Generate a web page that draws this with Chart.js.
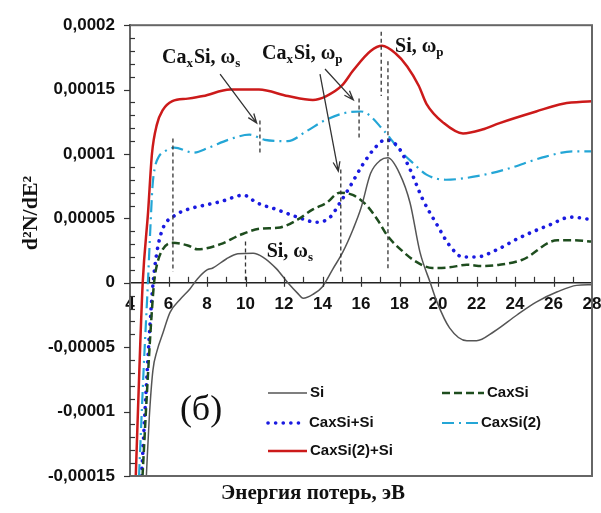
<!DOCTYPE html>
<html>
<head>
<meta charset="utf-8">
<script src="https://cdn.jsdelivr.net/npm/chart.js@4.4.0/dist/chart.umd.min.js"></script>
<style>
  html, body { margin: 0; padding: 0; background: #fff; }
</style>
</head>
<body>
<canvas id="chart-area" width="601" height="513"></canvas>
<script>
// values are read in units of 1e-5
const SCALE = 1e-5;

// Si
const siE = [4.85, 5.0, 5.19, 5.4, 5.71, 6.08, 6.6, 7.1, 7.5, 8.0, 8.3, 9.0, 9.6, 10.4, 10.9, 11.6, 12.2, 12.7, 13.0, 13.5, 14.0, 14.55, 15.06, 15.6, 16.0, 16.5, 17.0, 17.4, 18.0, 18.55, 19.06, 19.6, 19.95, 20.6, 21.5, 22.0, 22.9, 24.1, 25.1, 26.2, 27.2, 28.0];
const siV = [-15, -10.5, -6.8, -5.3, -3.9, -2.3, -1.3, -0.5, 0.3, 1.0, 1.15, 1.85, 2.25, 2.3, 2.0, 1.1, 0, -0.8, -1.2, -0.9, -0.3, 1.1, 2.4, 4.2, 5.8, 8.5, 9.5, 9.7, 8.5, 6.2, 2.4, 0, -1.5, -3.5, -4.5, -4.5, -3.8, -2.5, -1.5, -0.7, -0.2, -0.15];

// CaxSi
const caE = [4.65, 4.9, 5.1, 5.25, 5.4, 5.7, 6.2, 7.0, 7.5, 8.7, 9.7, 10.75, 11.8, 12.7, 13.5, 14.2, 14.9, 15.6, 16.3, 16.9, 17.35, 18.2, 18.9, 19.7, 20.6, 21.5, 22.3, 23.2, 24.4, 26.2, 27.0, 28.0];
const caV = [-15, -8, -3, 0, 1.4, 2.6, 3.1, 2.9, 2.6, 3.0, 3.7, 4.2, 4.3, 4.9, 5.7, 6.2, 7.0, 6.8, 6.0, 4.8, 3.7, 2.4, 1.6, 1.15, 1.2, 1.4, 1.3, 1.4, 1.8, 3.3, 3.3, 3.2];

// CaxSi+Si
const casiE = [4.6, 4.85, 5.05, 5.2, 5.4, 5.7, 6.3, 7.0, 7.8, 8.7, 9.9, 10.6, 11.6, 12.7, 13.7, 14.4, 14.9, 15.4, 16.1, 16.8, 17.25, 17.9, 18.55, 19.2, 19.95, 20.6, 21.3, 22.0, 23.1, 24.1, 25.8, 26.9, 28.0];
const casiV = [-15, -8, -3, 0, 2.4, 4.2, 5.2, 5.7, 6.0, 6.3, 6.8, 6.2, 5.7, 5.1, 4.7, 5.1, 6.2, 7.4, 9.2, 10.6, 11.1, 10.6, 8.8, 6.5, 4.5, 2.9, 2.0, 2.0, 2.6, 3.4, 4.5, 5.1, 4.9];

// CaxSi(2)
const ca2E = [4.47, 4.7, 4.93, 5.05, 5.17, 5.3, 5.5, 5.8, 6.3, 7.3, 8.1, 9.1, 10.2, 11.0, 12.2, 13.2, 14.1, 15.2, 16.0, 17.2, 18.0, 18.7, 19.4, 20.4, 22.1, 23.5, 25.6, 27.0, 28.0];
const ca2V = [-15, -7, 0, 4, 7.5, 9, 9.8, 10.2, 10.5, 10.1, 10.5, 11.1, 11.5, 11.1, 11.0, 11.8, 12.6, 13.2, 13.3, 11.8, 10.3, 9.3, 8.4, 8.0, 8.3, 8.8, 9.8, 10.2, 10.2];

// CaxSi(2)+Si
const ca2siE = [4.3, 4.48, 4.66, 4.94, 5.14, 5.4, 5.7, 6.2, 7.0, 7.8, 9.2, 10.7, 12.2, 13.5, 14.2, 15.0, 15.6, 16.5, 17.1, 17.8, 18.4, 19.0, 19.4, 20.3, 21.3, 22.3, 23.2, 25.1, 26.5, 28.0];
const ca2siV = [-15, -7, 0, 5.5, 10, 12.3, 13.4, 14.1, 14.3, 14.5, 15, 15, 14.5, 14.2, 14.5, 15.3, 16.5, 18.0, 18.4, 17.8, 16.8, 15.3, 13.9, 12.4, 11.6, 11.9, 12.4, 13.3, 13.9, 14.1];

const seriesNames = ['Si', 'CaxSi', 'CaxSi+Si', 'CaxSi(2)', 'CaxSi(2)+Si'];

// axis ticks
const yTickUnits = [-15, -10, -5, 0, 5, 10, 15, 20];
const yTickLabels = ['-0,00015', '-0,0001', '-0,00005', '0', '0,00005', '0,0001', '0,00015', '0,0002'];
const xMin = 4, xMax = 28;

// vertical dashed markers (energy, top, bottom in 1e-5)
const markE = [6.23, 10.0, 10.75, 14.95, 15.9, 17.05, 17.4];
const markTop = [11.2, 3.2, 12.6, 8.8, 14.3, 19.5, 17.2];
const markBot = [0.85, 0.2, 9.9, 0.85, 11.1, 14.5, 1.1];

// arrows: from (E, v) to (E, v)
const arrowFromE = [8.68, 13.87, 14.13];
const arrowFromV = [16.2, 16.2, 16.6];
const arrowToE = [10.58, 14.82, 15.6];
const arrowToV = [12.4, 8.67, 14.2];

// peak labels [text, subscript?]
const peakParts = [
  [['Ca', 0], ['x', 1], ['Si, \u03c9', 0], ['s', 1]],
  [['Ca', 0], ['x', 1], ['Si, \u03c9', 0], ['p', 1]],
  [['Si, \u03c9', 0], ['p', 1]],
  [['Si, \u03c9', 0], ['s', 1]]
];
const peakE = [5.66, 10.86, 17.77, 11.1];
const peakV = [17.1, 17.4, 17.9, 2.0];

function pts(E, V) {
  return E.map(function(e, i) { return {x: e, y: V[i] * SCALE}; });
}

const serif = '"Liberation Serif", "Times New Roman", serif';
const sans = '"Liberation Sans", Arial, sans-serif';

function drawParts(ctx, parts, x, y) {
  parts.forEach(function(p) {
    ctx.font = p[1] ? 'bold 13px ' + serif : 'bold 20px ' + serif;
    ctx.fillText(p[0], x, p[1] ? y + 4 : y);
    x += ctx.measureText(p[0]).width + (p[1] ? 1 : 0);
  });
}

function drawArrow(ctx, x1, y1, x2, y2) {
  ctx.beginPath();
  ctx.moveTo(x1, y1);
  ctx.lineTo(x2, y2);
  const a = Math.atan2(y2 - y1, x2 - x1);
  ctx.moveTo(x2 - 10 * Math.cos(a - 0.35), y2 - 10 * Math.sin(a - 0.35));
  ctx.lineTo(x2, y2);
  ctx.lineTo(x2 - 10 * Math.cos(a + 0.35), y2 - 10 * Math.sin(a + 0.35));
  ctx.stroke();
}

// legend layout inside the plot
const legendPos = [
  {x: 268, y: 393, w: 39},
  {x: 442, y: 393, w: 42},
  {x: 268, y: 423, w: 38},
  {x: 442, y: 423, w: 36},
  {x: 268, y: 451, w: 39}
];

const overlay = {
  id: 'overlay',
  afterDraw(chart) {
    const ctx = chart.ctx, a = chart.chartArea;
    const xs = chart.scales.x, ys = chart.scales.y;
    ctx.save();

    // frame
    ctx.strokeStyle = '#666';
    ctx.lineWidth = 2;
    ctx.strokeRect(a.left, a.top, a.right - a.left, a.bottom - a.top);

    // tick marks, minor included
    ctx.strokeStyle = '#333';
    ctx.lineWidth = 1.2;
    for (let u = yTickUnits[0]; u <= yTickUnits[yTickUnits.length - 1]; u++) {
      const py = Math.round(ys.getPixelForValue(u * SCALE)) + 0.5;
      ctx.beginPath();
      if (u % 5 === 0) { ctx.moveTo(a.left - 6, py); ctx.lineTo(a.left, py); }
      else { ctx.moveTo(a.left, py); ctx.lineTo(a.left + 5, py); }
      ctx.stroke();
    }
    const y0 = ys.getPixelForValue(0);
    for (let e = xMin + 1; e < xMax; e++) {
      const px = Math.round(xs.getPixelForValue(e)) + 0.5;
      ctx.beginPath();
      ctx.moveTo(px, y0 - 6);
      ctx.lineTo(px, e % 2 === 0 ? y0 + 4 : y0);
      ctx.stroke();
    }

    // dashed markers
    ctx.setLineDash([4, 3]);
    ctx.strokeStyle = '#333';
    ctx.lineWidth = 1.3;
    markE.forEach(function(e, i) {
      const px = xs.getPixelForValue(e);
      ctx.beginPath();
      ctx.moveTo(px, ys.getPixelForValue(markTop[i] * SCALE));
      ctx.lineTo(px, ys.getPixelForValue(markBot[i] * SCALE));
      ctx.stroke();
    });
    ctx.setLineDash([]);

    // arrows
    ctx.strokeStyle = '#333';
    ctx.lineWidth = 1.3;
    arrowFromE.forEach(function(e, i) {
      drawArrow(ctx, xs.getPixelForValue(e), ys.getPixelForValue(arrowFromV[i] * SCALE),
        xs.getPixelForValue(arrowToE[i]), ys.getPixelForValue(arrowToV[i] * SCALE));
    });

    // peak labels
    ctx.fillStyle = '#111';
    ctx.textBaseline = 'alphabetic';
    ctx.textAlign = 'left';
    peakParts.forEach(function(parts, i) {
      drawParts(ctx, parts, xs.getPixelForValue(peakE[i]), ys.getPixelForValue(peakV[i] * SCALE));
    });

    // (б)
    ctx.font = '36px ' + serif;
    ctx.textAlign = 'center';
    ctx.textBaseline = 'middle';
    ctx.fillText('(б)', xs.getPixelForValue(7.69), ys.getPixelForValue(-9.9 * SCALE));

    // legend
    ctx.textAlign = 'left';
    ctx.font = 'bold 15px ' + sans;
    chart.data.datasets.forEach(function(ds, i) {
      const p = legendPos[i];
      ctx.save();
      ctx.strokeStyle = ds.borderColor;
      ctx.lineWidth = ds.borderWidth;
      ctx.lineCap = ds.borderCapStyle || 'butt';
      ctx.setLineDash(ds.borderDash || []);
      ctx.beginPath();
      ctx.moveTo(p.x, p.y);
      ctx.lineTo(p.x + p.w, p.y);
      ctx.stroke();
      ctx.restore();
      ctx.fillStyle = '#111';
      ctx.fillText(ds.label, p.x + p.w + 3, p.y);
    });

    // axis titles
    ctx.font = 'bold 21px ' + serif;
    ctx.textAlign = 'center';
    ctx.fillText('Энергия потерь, эВ', 313, 494);
    ctx.translate(31, 213);
    ctx.rotate(-Math.PI / 2);
    ctx.font = 'bold 22px ' + serif;
    ctx.fillText('d\u00b2N/dE\u00b2', 0, 0);
    ctx.restore();
  }
};

var ctx = document.getElementById('chart-area');
var myChart = new Chart(ctx, {
  type: 'line',
  data: {
    datasets: [
      { label: seriesNames[0], data: pts(siE, siV), borderColor: '#555555', borderWidth: 1.5 },
      { label: seriesNames[1], data: pts(caE, caV), borderColor: '#1e4d1e', borderWidth: 2.5, borderDash: [8, 4] },
      { label: seriesNames[2], data: pts(casiE, casiV), borderColor: '#1a1ae0', borderWidth: 3.6, borderDash: [0.1, 7.5], borderCapStyle: 'round' },
      { label: seriesNames[3], data: pts(ca2E, ca2V), borderColor: '#24a6d6', borderWidth: 2.2, borderDash: [12, 5, 2, 5] },
      { label: seriesNames[4], data: pts(ca2siE, ca2siV), borderColor: '#cc1a1a', borderWidth: 2.5 }
    ]
  },
  options: {
    responsive: false,
    animation: false,
    layout: { padding: { top: 21, right: 9, bottom: 37, left: 0 } },
    elements: { point: { radius: 0 }, line: { cubicInterpolationMode: 'monotone', fill: false } },
    plugins: { legend: { display: false }, tooltip: { enabled: false } },
    scales: {
      x: {
        type: 'linear', min: xMin, max: xMax,
        position: { y: 0 },
        grid: { display: false, drawTicks: false },
        border: { display: true, color: '#222', width: 1.5 },
        ticks: { stepSize: 2, padding: 11, maxRotation: 0, autoSkip: false, color: '#111',
                 font: { family: sans, size: 17, weight: 'bold' } },
        afterFit: function(s) { s.paddingLeft = 0; s.paddingRight = 0; }
      },
      y: {
        min: yTickUnits[0] * SCALE, max: yTickUnits[yTickUnits.length - 1] * SCALE,
        grid: { display: false, drawTicks: false },
        border: { display: true, color: '#555', width: 2 },
        ticks: {
          stepSize: 5 * SCALE, padding: 15, color: '#111',
          font: { family: sans, size: 17, weight: 'bold' },
          callback: function(v) {
            const i = yTickUnits.indexOf(Math.round(v / SCALE));
            return i >= 0 ? yTickLabels[i] : '';
          }
        },
        afterFit: function(s) { s.width = 130; }
      }
    }
  },
  plugins: [overlay]
});
</script>
</body>
</html>
